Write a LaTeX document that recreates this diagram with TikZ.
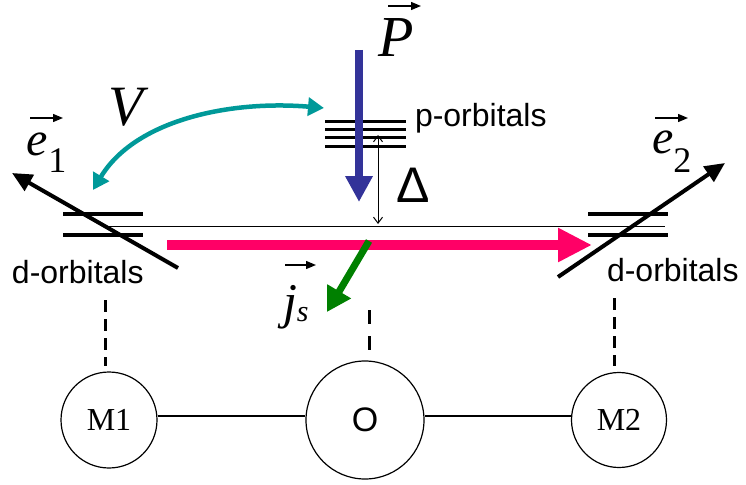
\documentclass[tikz,border=0pt]{standalone}
\usepackage{fontspec}
\setmainfont{Liberation Serif}
\newfontfamily\sansf{Liberation Sans}
\usetikzlibrary{arrows.meta}
\definecolor{pblue}{RGB}{51,51,153}
\definecolor{pteal}{RGB}{0,153,153}
\definecolor{ppink}{RGB}{255,0,102}
\definecolor{pgreen}{RGB}{0,128,0}
\begin{document}
\begin{tikzpicture}[x=1pt,y=-1pt,
  lbl/.style={inner sep=0pt, outer sep=0pt, anchor=base west},
  atom/.style={draw, circle, inner sep=0pt, line width=1.2pt},
  lvl/.style={line width=4.5pt},
  plvl/.style={line width=3pt},
  vecarr/.style={-{Triangle[length=10pt,width=8pt]}, line width=1.3pt},
  dsh/.style={line width=3pt, dash pattern=on 12pt off 7pt},
  orb/.style={lbl, font=\sansf\fontsize{32}{34}\selectfont},
]
\useasboundingbox (0,0) rectangle (746,484);

% d-orbital levels
\draw[lvl] (63,214) -- (143,214);
\draw[lvl] (63,235) -- (143,235);
\draw[lvl] (588,214) -- (668,214);
\draw[lvl] (588,235) -- (668,235);
% p-orbital levels
\foreach \yy in {121,129,137,146} \draw[plvl] (325,\yy) -- (406,\yy);
% thin line
\draw[line width=1pt] (105,226) -- (665,226);

% labels
\node[orb] (dl) at (12,283) {d-orbitals};
\node[orb] (dr) at (607,281) {d-orbitals};
\node[orb] (pl) at (415,127) {p-orbitals};
\node[lbl, font=\fontsize{57}{60}\selectfont\itshape] (V) at (108,125) {V};
\node[lbl, font=\fontsize{58}{60}\selectfont\itshape] (P) at (378,57) {P};
\node[lbl, font=\fontsize{48}{50}\selectfont] (e1) at (27,155) {\textit{e}\raisebox{-17pt}{\fontsize{36}{36}\selectfont 1}};
\node[lbl, font=\fontsize{48}{50}\selectfont] (e2) at (652,153) {\textit{e}\raisebox{-19pt}{\fontsize{36}{36}\selectfont 2}};
\node[lbl, font=\fontsize{50}{52}\selectfont] (js) at (283,318) {\textit{j}\raisebox{-3pt}{\fontsize{30}{30}\selectfont\itshape s}};
\node[lbl, font=\sansf\fontsize{50}{52}\selectfont] (D) at (396,202) {Δ};

% over-arrows
\coordinate (e1a) at (30,118); \coordinate (e1b) at (63,118);
\coordinate (e2a) at (655,118); \coordinate (e2b) at (688,118);
\coordinate (Pa) at (388,6); \coordinate (Pb) at (421,6);
\coordinate (ja) at (285,265); \coordinate (jb) at (316,265);
\draw[vecarr] (e1a) -- (e1b);
\draw[vecarr] (e2a) -- (e2b);
\draw[vecarr] (Pa) -- (Pb);
\draw[vecarr] (ja) -- (jb);

% polarization vectors
\coordinate (e1s) at (178,268); \coordinate (e1t) at (12,173);
\coordinate (e2s) at (558,277); \coordinate (e2t) at (725,163);
\draw[line width=4pt, -{Triangle[length=20pt,width=18pt]}] (e1s) -- (e1t);
\draw[line width=4pt, -{Triangle[length=20pt,width=18pt]}] (e2s) -- (e2t);

% V hopping arrow
\coordinate (Vl) at (93,190); \coordinate (Vr) at (324,108);
\draw[pteal, line width=4.5pt, {Triangle[length=16pt,width=18pt]}-{Triangle[length=16pt,width=18pt]}]
  (Vl) .. controls (135,120) and (230,100) .. (Vr);

% P arrow
\coordinate (Ps) at (359,50); \coordinate (Pt) at (359,202);
\draw[pblue, line width=8pt, -{Triangle[length=26pt,width=26pt]}] (Ps) -- (Pt);

% Delta arrow
\coordinate (Dt) at (378,135); \coordinate (Db) at (378,224);
\draw[line width=1pt, {Straight Barb[length=6pt,width=9pt]}-{Straight Barb[length=6pt,width=9pt]}] (Dt) -- (Db);

% spin current
\coordinate (ps) at (167,245); \coordinate (pt) at (592,245);
\draw[ppink, line width=10pt, -{Triangle[length=34pt,width=32pt]}] (ps) -- (pt);
\coordinate (gs) at (369,241); \coordinate (gt) at (327,312);
\draw[pgreen, line width=7pt, -{Triangle[length=24pt,width=26pt]}] (gs) -- (gt);

% atoms
\node[atom, minimum size=96pt, font=\fontsize{32}{34}\selectfont] (M1) at (109,420) {M1};
\node[atom, minimum size=118pt, font=\sansf\fontsize{34}{36}\selectfont] (O) at (365,420) {O};
\node[atom, minimum size=95pt, font=\fontsize{32}{34}\selectfont] (M2) at (619,420) {M2};
\draw[line width=1.2pt] ([yshift=4pt]M1.east) -- ([yshift=4pt]O.west);
\draw[line width=1.2pt] ([yshift=4pt]O.east) -- ([yshift=4pt]M2.west);

% dashed links
\coordinate (d1) at (105,300); \coordinate (d2) at (369,310); \coordinate (d3) at (614,298);
\draw[dsh] (d1) -- (105,366);
\draw[line width=3pt, dash pattern=on 14pt off 12pt] (d2) -- (369,350);
\draw[dsh] (d3) -- (614,366);
\end{tikzpicture}
\end{document}
